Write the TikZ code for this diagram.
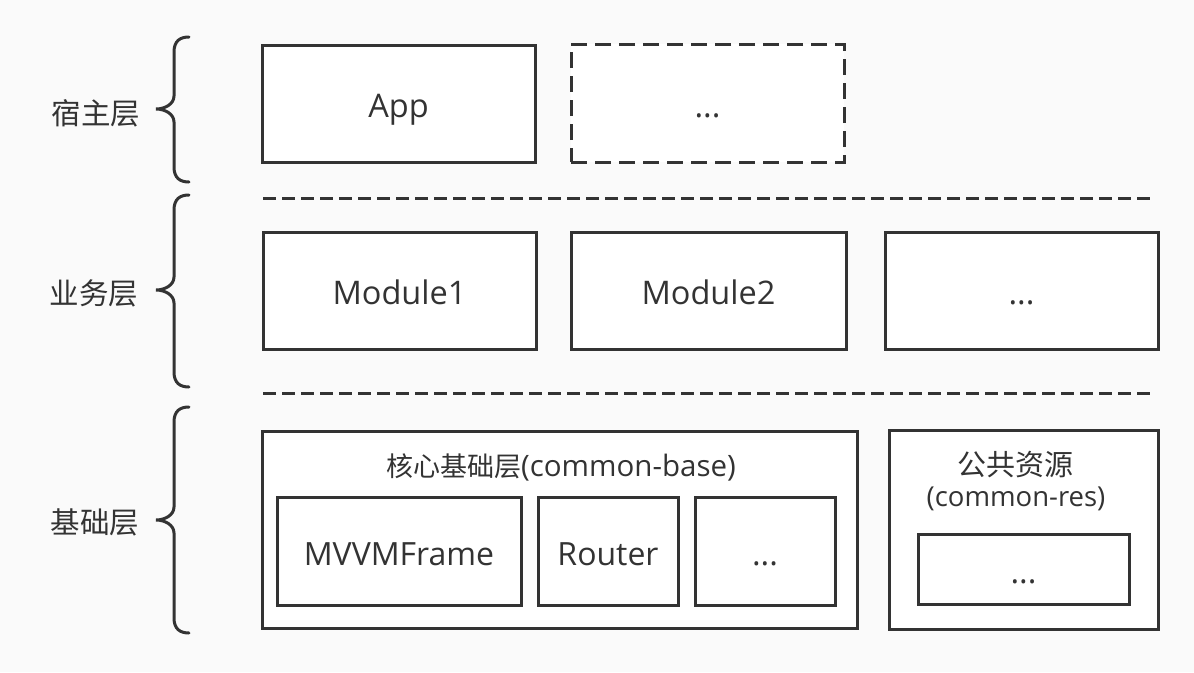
\documentclass[tikz,border=0pt]{standalone}
\usepackage{fontspec}
\setmainfont{Open Sans}
\newfontfamily\cjk{Noto Sans CJK SC}
\definecolor{ink}{HTML}{333333}
\definecolor{bg}{HTML}{FAFAFA}
\newcommand\layerbrace[3]{%
  \draw[bracestyle] (189,#1) .. controls (180,#1) and (174,#1+4) .. (174,#1+15)
    -- (174,#2-13) .. controls (174,#2-5) and (165,#2) .. (156,#2)
    .. controls (165,#2) and (174,#2+5) .. (174,#2+13)
    -- (174,#3-15) .. controls (174,#3-4) and (180,#3) .. (189,#3);}
\begin{document}
\begin{tikzpicture}[x=1pt,y=-1pt,
  box/.style={draw=ink, line width=3pt, fill=white, inner sep=0pt,
    text=ink, font=\fontsize{32.5}{38}\selectfont, text height=28pt, text depth=0pt},
  dashbox/.style={box, dash pattern=on 16pt off 8pt},
  sep/.style={draw=ink, line width=3pt, dash pattern=on 13pt off 6pt},
  bracestyle/.style={draw=ink, line width=3pt, line cap=round},
  lbl/.style={text=ink, inner sep=0pt, anchor=base, font=\cjk\fontsize{29.5}{34}\selectfont},
  ttl/.style={text=ink, inner sep=0pt, anchor=base, font=\fontsize{29.5}{34}\selectfont}]
\useasboundingbox (0,0) rectangle (1194,672);
\fill[bg] (0,0) rectangle (1194,672);

% layer labels and braces
\node[lbl] (lhost) at (96,124) {宿主层};
\node[lbl] (lbiz)  at (94,304) {业务层};
\node[lbl] (lbase) at (95,533) {基础层};
\layerbrace{37}{109}{182}
\layerbrace{195}{290}{387}
\layerbrace{407}{520}{633}

% host layer
\node[box, minimum width=273pt, minimum height=117pt] (app) at (398.5,103.5) {App};
\node[dashbox, minimum width=273pt, minimum height=118pt] (hostmore) at (707.5,103) {...};

% separators
\coordinate (s1a) at (263,198); \coordinate (s1b) at (1155,198);
\coordinate (s2a) at (263,393); \coordinate (s2b) at (1155,393);
\draw[sep] (s1a) -- (s1b);
\draw[sep] (s2a) -- (s2b);

% business layer
\node[box, minimum width=273pt, minimum height=117pt] (mod1) at (399.5,290.5) {Module1};
\node[box, minimum width=275pt, minimum height=117pt] (mod2) at (708.5,290.5) {Module2};
\node[box, minimum width=273pt, minimum height=117pt] (modmore) at (1021.5,290.5) {...};

% base layer: common-base
\node[box, minimum width=595pt, minimum height=197pt] (cbase) at (559.5,529.5) {};
\node[ttl] (cbasettl) at (561,476) {{\cjk\fontsize{27}{32}\selectfont 核心基础层}(common-base)};
\node[box, font=\fontsize{32}{38}\selectfont, minimum width=244pt, minimum height=108pt] (mvvm) at (399,551) {MVVMFrame};
\node[box, font=\fontsize{32}{38}\selectfont, minimum width=140pt, minimum height=108pt] (router) at (608,551) {Router};
\node[box, minimum width=140pt, minimum height=108pt] (basemore) at (765,551) {...};

% base layer: common-res
\node[box, minimum width=269pt, minimum height=199pt] (cres) at (1023.5,529.5) {};
\node[ttl, font=\cjk\fontsize{29}{34}\selectfont] (cresttl1) at (1015,475) {公共资源};
\node[ttl, font=\fontsize{27.5}{32}\selectfont] (cresttl2) at (1016,506) {(common-res)};
\node[box, minimum width=211pt, minimum height=70pt] (resmore) at (1023.5,569) {...};
\end{tikzpicture}
\end{document}
